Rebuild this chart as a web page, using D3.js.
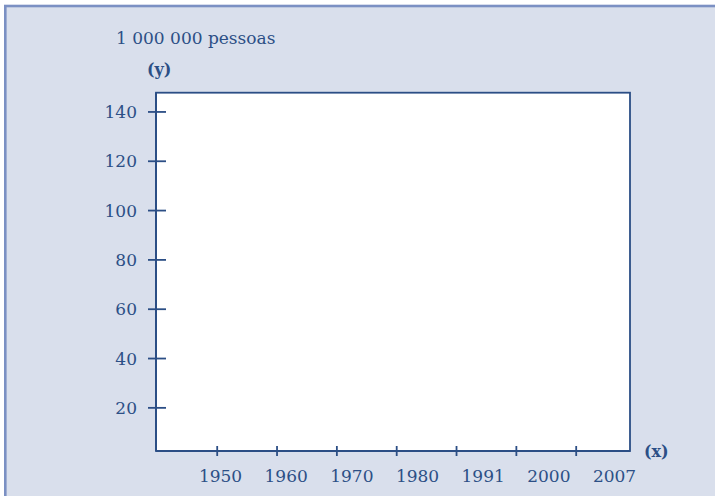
<!DOCTYPE html>
<html>
<head>
<meta charset="utf-8">
<script src="https://cdn.jsdelivr.net/npm/d3@7"></script>
<style>
  html, body { margin: 0; padding: 0; background: #ffffff; }
  svg { display: block; }
  text { font-family: "DejaVu Serif", "Liberation Serif", serif; fill: #2c4f86; }
</style>
</head>
<body>
<svg id="chart" width="715" height="496"></svg>
<script>
// ---- data ----
const years = ["1950", "1960", "1970", "1980", "1991", "2000", "2007"];
const yTicks = [20, 40, 60, 80, 100, 120, 140];
const yDomain = [2.3, 147.6];
const unitLabel = "1 000 000 pessoas";
const yAxisName = "(y)";
const xAxisName = "(x)";

// ---- layout ----
const W = 715, H = 496;
const plot = { left: 156, right: 630, top: 92.7, bottom: 451 };
const axisColor = "#2b4e85";
const textColor = "#2c4f86";
const fontSize = 17;
const fontFamily = "DejaVu Serif";

const svg = d3.select("#chart");

// outer panel (clipped at right & bottom)
svg.append("rect")
  .attr("x", 5.3).attr("y", 6)
  .attr("width", W + 10).attr("height", H + 10)
  .attr("fill", "#d9dfec")
  .attr("stroke", "#7b90c3")
  .attr("stroke-width", 2.6);

// plot area
svg.append("rect")
  .attr("x", plot.left).attr("y", plot.top)
  .attr("width", plot.right - plot.left).attr("height", plot.bottom - plot.top)
  .attr("fill", "#ffffff")
  .attr("stroke", axisColor)
  .attr("stroke-width", 1.8);

// scales
const y = d3.scaleLinear().domain(yDomain).range([plot.bottom, plot.top]);
const xTick = d3.scalePoint().domain(years).range([216.7, 575.7]);
const xLabel = d3.scalePoint().domain(years).range([220, 614]);

// y axis
const gy = svg.append("g")
  .attr("transform", `translate(${plot.left},0)`)
  .call(d3.axisLeft(y).tickValues(yTicks).tickSize(8).tickFormat(d3.format("d")));
gy.select(".domain").remove();
gy.selectAll(".tick line").attr("x1", 10).attr("stroke", axisColor).attr("stroke-width", 1.8);
gy.selectAll(".tick text")
  .attr("font-size", fontSize)
  .attr("font-family", fontFamily)
  .attr("fill", textColor)
  .attr("x", -19)
  .attr("dy", "0.36em");

// x axis ticks
const gxt = svg.append("g")
  .attr("transform", `translate(0,${plot.bottom})`)
  .call(d3.axisBottom(xTick).tickSize(5).tickFormat(""));
gxt.select(".domain").remove();
gxt.selectAll(".tick line").attr("y1", -5).attr("stroke", axisColor).attr("stroke-width", 1.8);

// x axis labels
const gxl = svg.append("g")
  .attr("transform", `translate(0,${plot.bottom})`)
  .call(d3.axisBottom(xLabel).tickSize(0));
gxl.select(".domain").remove();
gxl.selectAll(".tick text")
  .attr("font-size", fontSize)
  .attr("font-family", fontFamily)
  .attr("fill", textColor)
  .attr("y", 31)
  .attr("dy", 0);

// redraw the axis lines on top
svg.append("line")
  .attr("x1", plot.left).attr("x2", plot.left)
  .attr("y1", plot.top).attr("y2", plot.bottom)
  .attr("stroke", axisColor).attr("stroke-width", 2);
svg.append("line")
  .attr("x1", plot.left).attr("x2", plot.right)
  .attr("y1", plot.bottom).attr("y2", plot.bottom)
  .attr("stroke", axisColor).attr("stroke-width", 2);

// titles
svg.append("text")
  .attr("x", 116).attr("y", 44)
  .attr("font-size", fontSize)
  .text(unitLabel);
svg.append("text")
  .attr("x", 147).attr("y", 75)
  .attr("font-size", 16)
  .attr("font-weight", "bold")
  .text(yAxisName);
svg.append("text")
  .attr("x", 644).attr("y", 457)
  .attr("font-size", 16)
  .attr("font-weight", "bold")
  .text(xAxisName);
</script>
</body>
</html>
